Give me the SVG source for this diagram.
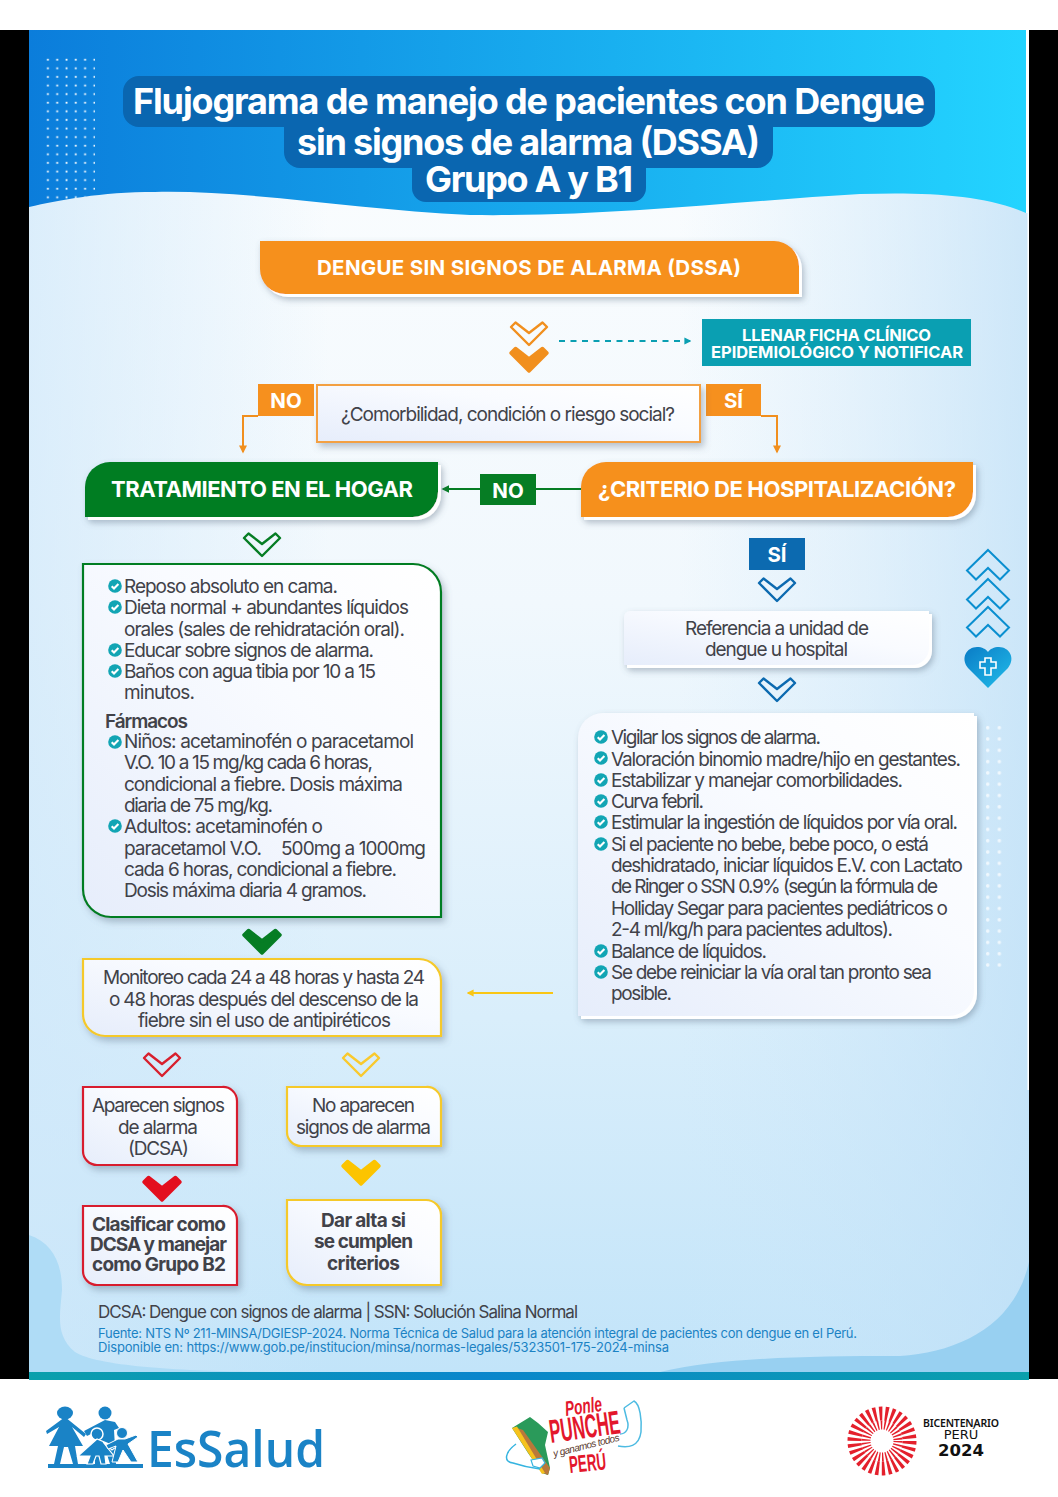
<svg xmlns="http://www.w3.org/2000/svg" width="1058" height="1497" viewBox="0 0 1058 1497">
<defs>
<style>
text{font-family:"Inter","Liberation Sans",sans-serif}
.t{font-size:19px;fill:#414249;transform:translateY(.5px)}
.tb{font-size:19px;fill:#414249;font-weight:700}
.hd{font-size:22px;fill:#fff;font-weight:700}
.lab{font-size:20.500px;fill:#fff;font-weight:700}
.ttl{font-size:36px;fill:#fff;font-weight:700}
.co{fill:none;stroke-width:2}
.chev{stroke-width:2.400;stroke-linejoin:round}
.fil{stroke-width:3.500;stroke-linejoin:round}
</style>
<linearGradient id="hg" x1="0" y1="0" x2="1" y2="0"><stop offset="0" stop-color="#0b7ddb"/><stop offset="1" stop-color="#23d4ff"/></linearGradient>
<linearGradient id="bg" x1="0" y1="0" x2="0" y2="1"><stop offset="0" stop-color="#f9fcfe"/><stop offset=".35" stop-color="#f1f8fd"/><stop offset=".7" stop-color="#d9eefb"/><stop offset="1" stop-color="#c2e4f9"/></linearGradient>
<linearGradient id="sl" x1="0" y1="0" x2="1" y2="0"><stop offset="0" stop-color="#cfe8fa" stop-opacity=".7"/><stop offset=".3" stop-color="#cfe8fa" stop-opacity="0"/><stop offset=".65" stop-color="#cfe8fa" stop-opacity="0"/><stop offset="1" stop-color="#bfe0f7" stop-opacity=".75"/></linearGradient>
<linearGradient id="box" x1="0" y1="1" x2="1" y2="0"><stop offset="0" stop-color="#e6edfb"/><stop offset=".6" stop-color="#f9fbff"/><stop offset="1" stop-color="#ffffff"/></linearGradient>
<linearGradient id="band" x1="0" y1="0" x2="1" y2="0"><stop offset="0" stop-color="#0aa0ac"/><stop offset=".45" stop-color="#0b86cc"/><stop offset="1" stop-color="#0aa0ac"/></linearGradient>
<linearGradient id="hrt" x1="0" y1="0" x2="1" y2="1"><stop offset="0" stop-color="#0a7cc6"/><stop offset="1" stop-color="#22bdea"/></linearGradient>
<pattern id="dots" width="9.300" height="8.600" patternUnits="userSpaceOnUse" x="46.400" y="58"><rect x="0.600" y="0.800" width="1.800" height="1.800" fill="#fff"/></pattern>
<pattern id="dots2" width="11.600" height="11.300" patternUnits="userSpaceOnUse" x="985" y="725"><rect x="1" y="1" width="3.400" height="3.400" rx="1.500" fill="#fff" fill-opacity=".7"/></pattern>
<filter id="sh" x="-10%" y="-15%" width="125%" height="140%"><feDropShadow dx="3" dy="4" stdDeviation="3.500" flood-color="#5a6b80" flood-opacity=".4"/></filter>
<filter id="rim" x="-10%" y="-20%" width="125%" height="150%"><feDropShadow dx="3" dy="3" stdDeviation="0.300" flood-color="#fff"/><feDropShadow dx="2" dy="3" stdDeviation="3" flood-color="#5a6b80" flood-opacity=".4"/></filter>
<marker id="aO" viewBox="0 0 10 10" refX="8" refY="5" markerWidth="9" markerHeight="8" orient="auto" markerUnits="userSpaceOnUse"><path d="M0 0L10 5L0 10Z" fill="#f18f1e"/></marker>
<marker id="aG" viewBox="0 0 10 10" refX="8" refY="5" markerWidth="8" markerHeight="10" orient="auto" markerUnits="userSpaceOnUse"><path d="M0 0L10 5L0 10Z" fill="#067d24"/></marker>
<marker id="aT" viewBox="0 0 10 10" refX="8" refY="5" markerWidth="7" markerHeight="10" orient="auto" markerUnits="userSpaceOnUse"><path d="M0 0L10 5L0 10Z" fill="#0a9fb2"/></marker>
<marker id="aY" viewBox="0 0 10 10" refX="8" refY="5" markerWidth="7" markerHeight="11" orient="auto" markerUnits="userSpaceOnUse"><path d="M0 0L10 5L0 10Z" fill="#f9c614"/></marker>
<path id="cv" d="M-18 6L-13.500 1.500L0 12L13.500 1.500L18 6L0 24Z"/>
<path id="up" d="M0 0L21 20.500L12 29.500L0 18L-12 29.500L-21 20.500Z"/>
<g id="ck"><circle r="6.800" fill="#12a5b4"/><path d="M-3.300 0.200L-1 2.500L3.400-2" fill="none" stroke="#fff" stroke-width="2.100"/></g>
</defs>

<rect width="1058" height="1497" fill="#fff"/>
<rect x="0" y="30" width="29" height="1349" fill="#000"/>
<rect x="1029" y="30" width="29" height="1349" fill="#000"/>
<g id="background">
<rect x="29" y="190" width="1000" height="1182" fill="url(#bg)"/>
<rect x="29" y="190" width="1000" height="1182" fill="url(#sl)"/>
<path d="M29 1235C52 1243 62 1262 62 1290C60 1315 55 1335 75 1352C100 1368 200 1372 290 1372L29 1372Z" fill="#afdcf6"/>
<path d="M660 1372C720 1358 800 1356 900 1356C960 1352 1015 1325 1029 1262L1029 1372Z" fill="#98d0f1"/>
<rect x="1027.500" y="190" width="1.500" height="900" fill="#fff"/>
<path d="M29 30H1026V213C985 195 930 192 860 194C750 200 610 217 470 215C360 210 250 190 155 192C100 192 60 200 29 207Z" fill="url(#hg)"/>
<rect x="1026" y="30" width="3" height="183" fill="#fff"/>
<clipPath id="hc"><path d="M29 30H1026V213C985 195 930 192 860 194C750 200 610 217 470 215C360 210 250 190 155 192C100 192 60 200 29 207Z"/></clipPath>
<rect x="46" y="58" width="49" height="146" fill="url(#dots)" clip-path="url(#hc)"/>
<rect x="985" y="725" width="18" height="246" fill="url(#dots2)"/>
<rect x="29" y="1372" width="1000" height="8" fill="url(#band)"/>
</g>

<g id="title">
<path d="M139 76H919A16 16 0 0 1 935 92V111A16 16 0 0 1 919 127H773V152A16 16 0 0 1 757 168H646V188A14 14 0 0 1 632 202H426A14 14 0 0 1 412 188V168H300A16 16 0 0 1 284 152V127H139A16 16 0 0 1 123 111V92A16 16 0 0 1 139 76Z" fill="#0a66b0"/>
<text class="ttl" x="133" y="114" textLength="792">Flujograma de manejo de pacientes con Dengue</text>
<text class="ttl" x="297" y="155" textLength="463">sin signos de alarma (DSSA)</text>
<text class="ttl" x="425" y="192" textLength="208">Grupo A y B1</text>
</g>

<g id="connectors">
<use href="#cv" transform="translate(529 321)" class="chev" fill="none" stroke="#f18f1e"/>
<use href="#cv" transform="translate(529 347)" class="fil" fill="#f18f1e" stroke="#f18f1e"/>
<path d="M559 341H690" class="co" stroke="#0a9fb2" stroke-dasharray="6 5.500" marker-end="url(#aT)"/>
<path d="M258 416H243V452" class="co" stroke="#f18f1e" marker-end="url(#aO)"/>
<path d="M761 416H777V452" class="co" stroke="#f18f1e" marker-end="url(#aO)"/>
<path d="M581 489H536M480 489H443" class="co" stroke="#067d24" marker-end="url(#aG)"/>
<use href="#cv" transform="translate(262 532)" class="chev" fill="none" stroke="#067d24"/>
<use href="#cv" transform="translate(262 929)" class="fil" fill="#067d24" stroke="#067d24"/>
<use href="#cv" transform="translate(777 577)" class="chev" fill="none" stroke="#0c6ab0"/>
<use href="#cv" transform="translate(777 677)" class="chev" fill="none" stroke="#0c6ab0"/>
<path d="M553 993H468" class="co" stroke="#f9c614" marker-end="url(#aY)"/>
<use href="#cv" transform="translate(162 1052)" class="chev" fill="none" stroke="#d81f2d"/>
<use href="#cv" transform="translate(361 1052)" class="chev" fill="none" stroke="#f9c92c"/>
<use href="#cv" transform="translate(162 1176)" class="fil" fill="#e30f1e" stroke="#e30f1e"/>
<use href="#cv" transform="translate(361 1160)" class="fil" fill="#fcc400" stroke="#fcc400"/>
</g>

<g id="n-dssa">
<path d="M260 241H774A25 25 0 0 1 799 266V294H285A25 25 0 0 1 260 269Z" fill="#f6901e" filter="url(#rim)"/>
<text class="lab" x="317" y="275" textLength="424">DENGUE SIN SIGNOS DE ALARMA (DSSA)</text>
</g>
<g id="n-ficha">
<rect x="702" y="319" width="269" height="47" fill="#0a9fb2"/>
<text x="742" y="341" font-size="16.500" font-weight="700" fill="#fff" textLength="189">LLENAR FICHA CLÍNICO</text>
<text x="711" y="358" font-size="16.500" font-weight="700" fill="#fff" textLength="252">EPIDEMIOLÓGICO Y NOTIFICAR</text>
</g>
<g id="n-no1">
<rect x="258" y="384" width="56" height="32" fill="#f6901e"/>
<text class="lab" x="286" y="408" text-anchor="middle">NO</text>
</g>
<g id="n-si1">
<rect x="706" y="384" width="55" height="32" fill="#f6901e"/>
<text class="lab" x="733.500" y="408" text-anchor="middle">SÍ</text>
</g>
<g id="n-comorb">
<rect x="317" y="385" width="383" height="57" fill="url(#box)" stroke="#f3a043" stroke-width="2" filter="url(#sh)"/>
<text class="t" x="341" y="420" textLength="334">¿Comorbilidad, condición o riesgo social?</text>
</g>
<g id="n-hogar">
<path d="M110 462H438V492A25 25 0 0 1 413 517H85V487A25 25 0 0 1 110 462Z" fill="#067d24" filter="url(#rim)"/>
<text class="hd" x="111" y="497" textLength="302">TRATAMIENTO EN EL HOGAR</text>
</g>
<g id="n-no2">
<rect x="480" y="474" width="56" height="31" fill="#067d24"/>
<text class="lab" x="508" y="498" text-anchor="middle">NO</text>
</g>
<g id="n-criterio">
<path d="M606 462H973V492A25 25 0 0 1 948 517H581V487A25 25 0 0 1 606 462Z" fill="#f6901e" filter="url(#rim)"/>
<text class="hd" x="598" y="497" textLength="358">¿CRITERIO DE HOSPITALIZACIÓN?</text>
</g>

<g id="n-cuidados">
<path d="M83 564H413A28 28 0 0 1 441 592V917H111A28 28 0 0 1 83 889Z" fill="url(#box)" stroke="#067d24" stroke-width="2.200" filter="url(#sh)"/>
<use href="#ck" x="115" y="586"/><use href="#ck" x="115" y="607"/><use href="#ck" x="115" y="650"/><use href="#ck" x="115" y="671"/><use href="#ck" x="115" y="742"/><use href="#ck" x="115" y="826"/>
<text class="t" x="124" y="592" textLength="214">Reposo absoluto en cama.</text>
<text class="t" x="124" y="613" textLength="285">Dieta normal + abundantes líquidos</text>
<text class="t" x="124" y="635" textLength="281">orales (sales de rehidratación oral).</text>
<text class="t" x="124" y="656" textLength="250">Educar sobre signos de alarma.</text>
<text class="t" x="124" y="677" textLength="252">Baños con agua tibia por 10 a 15</text>
<text class="t" x="124" y="698" textLength="71">minutos.</text>
<text class="t" x="105" y="727" font-weight="600" textLength="83">Fármacos</text>
<text class="t" x="124" y="747" textLength="290">Niños: acetaminofén o paracetamol</text>
<text class="t" x="124" y="768" textLength="249">V.O. 10 a 15 mg/kg cada 6 horas,</text>
<text class="t" x="124" y="790" textLength="279">condicional a fiebre. Dosis máxima</text>
<text class="t" x="124" y="811" textLength="149">diaria de 75 mg/kg.</text>
<text class="t" x="124" y="832" textLength="199">Adultos: acetaminofén o</text>
<text class="t" x="124" y="854" textLength="138">paracetamol V.O.</text>
<text class="t" x="281" y="854" textLength="145">500mg a 1000mg</text>
<text class="t" x="124" y="875" textLength="273">cada 6 horas, condicional a fiebre.</text>
<text class="t" x="124" y="896" textLength="243">Dosis máxima diaria 4 gramos.</text>
</g>

<g id="n-si2">
<rect x="749" y="538" width="56" height="32" fill="#0c6ab0"/>
<text class="lab" x="777" y="562" text-anchor="middle">SÍ</text>
</g>
<g id="n-referencia">
<path d="M630 611H929V648A17 17 0 0 1 912 665H624V617A6 6 0 0 1 630 611Z" fill="url(#box)" filter="url(#rim)"/>
<text class="t" x="685" y="634" textLength="184">Referencia a unidad de</text>
<text class="t" x="705" y="655" textLength="143">dengue u hospital</text>
</g>
<g id="n-vigilar">
<path d="M603 713H974V991A25 25 0 0 1 949 1016H578V738A25 25 0 0 1 603 713Z" fill="url(#box)" filter="url(#rim)"/>
<use href="#ck" x="601" y="737"/><use href="#ck" x="601" y="758"/><use href="#ck" x="601" y="780"/><use href="#ck" x="601" y="801"/><use href="#ck" x="601" y="822"/><use href="#ck" x="601" y="844"/><use href="#ck" x="601" y="951"/><use href="#ck" x="601" y="972"/>
<text class="t" x="611" y="743" textLength="210">Vigilar los signos de alarma.</text>
<text class="t" x="611" y="765" textLength="350">Valoración binomio madre/hijo en gestantes.</text>
<text class="t" x="611" y="786" textLength="292">Estabilizar y manejar comorbilidades.</text>
<text class="t" x="611" y="807" textLength="93">Curva febril.</text>
<text class="t" x="611" y="828" textLength="347">Estimular la ingestión de líquidos por vía oral.</text>
<text class="t" x="611" y="850" textLength="318">Si el paciente no bebe, bebe poco, o está</text>
<text class="t" x="611" y="871" textLength="352">deshidratado, iniciar líquidos E.V. con Lactato</text>
<text class="t" x="611" y="892" textLength="327">de Ringer o SSN 0.9% (según la fórmula de</text>
<text class="t" x="611" y="914" textLength="337">Holliday Segar para pacientes pediátricos o</text>
<text class="t" x="611" y="935" textLength="282">2-4 ml/kg/h para pacientes adultos).</text>
<text class="t" x="611" y="957" textLength="156">Balance de líquidos.</text>
<text class="t" x="611" y="978" textLength="321">Se debe reiniciar la vía oral tan pronto sea</text>
<text class="t" x="611" y="999" textLength="61">posible.</text>
</g>

<g id="deco-heart">
<use href="#up" transform="translate(988 550)" fill="none" stroke="#0a8fd0" stroke-width="2"/>
<use href="#up" transform="translate(988 579)" fill="none" stroke="#0a8fd0" stroke-width="2"/>
<use href="#up" transform="translate(988 607)" fill="none" stroke="#0a8fd0" stroke-width="2"/>
<path d="M988 688L968 668C960 658 967 647 977 647C982 647 986 649 988 652C990 649 994 647 999 647C1009 647 1016 658 1008 668Z" fill="url(#hrt)"/>
<path d="M985 662V658H991V662H996V668H991V675H985V668H980V662Z" fill="none" stroke="#fff" stroke-width="1.600"/>
</g>

<g id="n-monitoreo">
<path d="M83 959H419A22 22 0 0 1 441 981V1036H105A22 22 0 0 1 83 1014Z" fill="url(#box)" stroke="#f5c92a" stroke-width="2.200" filter="url(#sh)"/>
<text class="t" x="103" y="983" textLength="322">Monitoreo cada 24 a 48 horas y hasta 24</text>
<text class="t" x="109" y="1005" textLength="310">o 48 horas después del descenso de la</text>
<text class="t" x="138" y="1026" textLength="253">fiebre sin el uso de antipiréticos</text>
</g>
<g id="n-aparecen">
<path d="M83 1087H222A14 14 0 0 1 237 1101V1165H97A14 14 0 0 1 83 1151Z" fill="url(#box)" stroke="#d81f2d" stroke-width="2.200" filter="url(#sh)"/>
<text class="t" x="92" y="1111" textLength="133">Aparecen signos</text>
<text class="t" x="118" y="1133" textLength="80">de alarma</text>
<text class="t" x="128" y="1154" textLength="61">(DCSA)</text>
</g>
<g id="n-noaparecen">
<path d="M287 1087H426A14 14 0 0 1 441 1101V1146H301A14 14 0 0 1 287 1132Z" fill="url(#box)" stroke="#f5c92a" stroke-width="2.200" filter="url(#sh)"/>
<text class="t" x="312" y="1111" textLength="103">No aparecen</text>
<text class="t" x="296" y="1133" textLength="135">signos de alarma</text>
</g>
<g id="n-clasificar">
<path d="M83 1206H222A14 14 0 0 1 237 1220V1285H97A14 14 0 0 1 83 1271Z" fill="url(#box)" stroke="#d81f2d" stroke-width="2.200" filter="url(#sh)"/>
<text class="tb" x="92" y="1231" textLength="134">Clasificar como</text>
<text class="tb" x="90" y="1251" textLength="137">DCSA y manejar</text>
<text class="tb" x="92" y="1271" textLength="134">como Grupo B2</text>
</g>
<g id="n-alta">
<path d="M287 1200H426A15 15 0 0 1 441 1215V1285H307A20 20 0 0 1 287 1265Z" fill="url(#box)" stroke="#f5c92a" stroke-width="2.200" filter="url(#sh)"/>
<text class="tb" x="321" y="1227" textLength="85">Dar alta si</text>
<text class="tb" x="314" y="1248" textLength="99">se cumplen</text>
<text class="tb" x="327" y="1270" textLength="73">criterios</text>
</g>

<g id="footer">
<text x="98" y="1318" font-size="17" fill="#414249" textLength="480">DCSA: Dengue con signos de alarma | SSN: Solución Salina Normal</text>
<text x="98" y="1338" font-size="13" fill="#1b82c4" textLength="759">Fuente: NTS Nº 211-MINSA/DGIESP-2024. Norma Técnica de Salud para la atención integral de pacientes con dengue en el Perú.</text>
<text x="98" y="1352" font-size="13" fill="#1b82c4" textLength="571">Disponible en: https://www.gob.pe/institucion/minsa/normas-legales/5323501-175-2024-minsa</text>
</g>

<g id="logo-essalud" fill="#1a83c6">
<rect x="48" y="1464" width="95" height="4"/>
<ellipse cx="65" cy="1413" rx="8" ry="6.500"/>
<path d="M65 1417L46 1431L47 1434L59 1427L49 1446H58L54 1464H60L64 1447H68L73 1464H78L75 1446H83L72 1427L84 1437L86 1434Z"/>
<circle cx="105" cy="1413" r="6.500"/>
<path d="M105 1420L84 1431L87 1436L95 1432L95 1464H101L104 1445L110 1464H116L114 1430L119 1428L115 1422Z"/>
<circle cx="97" cy="1434" r="6" stroke="#fff" stroke-width="1.500"/>
<path d="M97 1439L78 1456H90L87 1464H93L96 1456H99L101 1464H106L105 1456H114L103 1442L112 1450L116 1447Z" stroke="#fff" stroke-width="1.200"/>
<circle cx="122" cy="1433" r="5.500" stroke="#fff" stroke-width="1"/>
<path d="M118 1439L106 1445L108 1449L116 1446L112 1462H118L123 1450L131 1462H138L128 1444L138 1437L136 1435L125 1439Z" stroke="#fff" stroke-width="1"/>
<text x="147" y="1467" font-size="50" style="font-family:'Open Sans','Liberation Sans',sans-serif" font-weight="600" textLength="178" lengthAdjust="spacingAndGlyphs">EsSalud</text>
</g>

<g id="logo-punche">
<path d="M512 1428L530 1417L538 1423L548 1432L545 1445L550 1468L548 1475L542 1473L528 1453Z" fill="#2a9a5a"/>
<path d="M517 1428L523 1430L550 1468L548 1475L543 1473Z" fill="#b9783a"/>
<path d="M512 1428L517 1426.500L545 1473L542 1474Z" fill="#f6c21c"/>
<path d="M516 1444C505 1452 503 1462 513 1463C522 1466 532 1468 540 1469" fill="none" stroke="#35b4e0" stroke-width="1.500"/>
<path d="M531 1460L542 1458L545 1463L540 1468L533 1466Z" fill="#fff" stroke="#35b4e0" stroke-width="1.200"/>
<path d="M624 1408L634 1401C640 1404 642 1420 641 1432C639 1447 628 1448 618 1446M624 1408L627 1420C630 1428 626 1434 620 1434" fill="none" stroke="#4dbbe2" stroke-width="1.500"/>
<text x="566" y="1416" transform="rotate(-8 566 1416)" font-size="21" font-style="italic" font-weight="700" fill="#e3172c" textLength="37" lengthAdjust="spacingAndGlyphs" style="font-family:'Liberation Sans',sans-serif">Ponle</text>
<text x="551" y="1443" transform="rotate(-8 551 1443)" font-size="33" font-weight="700" fill="#e3172c" textLength="71" lengthAdjust="spacingAndGlyphs" style="font-family:'Liberation Sans',sans-serif">PUNCHE</text>
<text x="554" y="1457" transform="rotate(-14 554 1457)" font-size="10" font-style="italic" fill="#5a3a2e" textLength="68" style="font-family:'Liberation Sans',sans-serif">y ganamos todos</text>
<text x="570" y="1473" transform="rotate(-6 570 1473)" font-size="24" font-weight="700" fill="#e3172c" textLength="37" lengthAdjust="spacingAndGlyphs" style="font-family:'Liberation Sans',sans-serif">PERÚ</text>
</g>

<g id="logo-bicentenario">
<circle cx="882" cy="1441" r="27.500" fill="none" stroke="#e4202c" stroke-width="14" stroke-dasharray="3 2.760"/>
<circle cx="882" cy="1441" r="16" fill="none" stroke="#e4202c" stroke-width="9" stroke-dasharray="1.500 1.850"/>
<text x="923" y="1427" font-size="10.500" font-weight="600" fill="#111" textLength="76" style="font-family:'Noto Sans',sans-serif">BICENTENARIO</text>
<text x="961" y="1439" font-size="13" fill="#111" text-anchor="middle" style="font-family:'DejaVu Sans',sans-serif">PERÚ</text>
<text x="961" y="1456" font-size="16.500" font-weight="700" fill="#111" text-anchor="middle" style="font-family:'DejaVu Sans',sans-serif">2024</text>
</g>
</svg>
